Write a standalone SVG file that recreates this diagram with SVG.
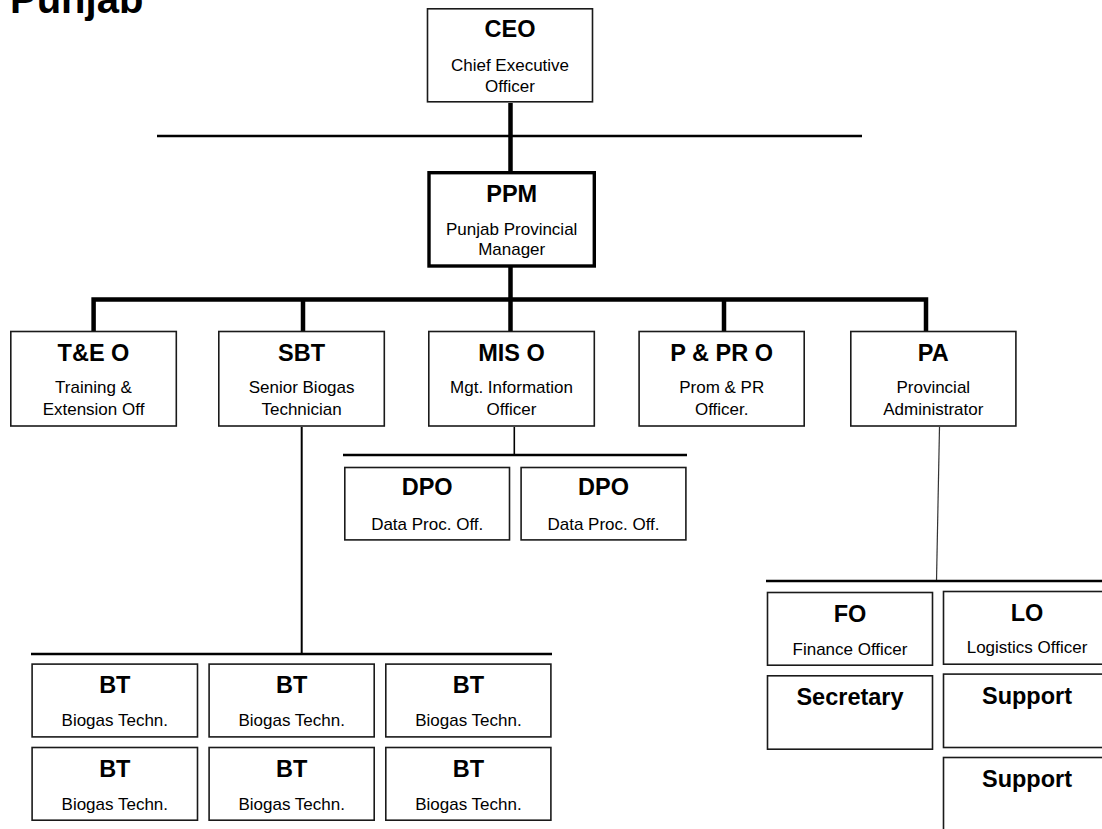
<svg xmlns="http://www.w3.org/2000/svg" width="1102" height="829" viewBox="0 0 1102 829">
<style>
  .box{fill:#fff;stroke:#1a1a1a;stroke-width:1.6}
  .thick{fill:#fff;stroke:#000;stroke-width:3.4}
  .t{font-family:"Liberation Sans",Arial,sans-serif;font-weight:bold;font-size:23.5px;fill:#000;text-anchor:middle}
  .s{font-family:"Liberation Sans",Arial,sans-serif;font-size:17px;fill:#000;text-anchor:middle}
  .ln{fill:none;stroke:#000}
</style>
<rect width="1102" height="829" fill="#fff"/>
<text x="10" y="13" font-family="Liberation Sans, Arial, sans-serif" font-weight="bold" font-size="40" fill="#000">Punjab</text>
<g id="connectors">
  <line class="ln" x1="157" y1="136" x2="862" y2="136" stroke-width="2.3"/>
  <line class="ln" x1="510.5" y1="103" x2="510.5" y2="171" stroke-width="4.5"/>
  <line class="ln" x1="510.5" y1="267" x2="510.5" y2="331" stroke-width="4.5"/>
  <path class="ln" d="M93.6,331 V299.5 H926 V331 M303,299.5 V331 M724,299.5 V331" stroke-width="4.5" stroke-linejoin="miter"/>
  <line class="ln" x1="301.7" y1="427" x2="301.7" y2="654" stroke-width="2"/>
  <line class="ln" x1="31" y1="654" x2="552" y2="654" stroke-width="2.5"/>
  <line class="ln" x1="514.3" y1="427" x2="514.3" y2="455" stroke-width="1.6"/>
  <line class="ln" x1="343" y1="455" x2="687" y2="455" stroke-width="2.5"/>
  <line x1="939.5" y1="427" x2="936.5" y2="581" stroke="#333" stroke-width="1.2"/>
  <line class="ln" x1="766" y1="581" x2="1102" y2="581" stroke-width="2.3"/>
</g>
<g id="ceo">
  <rect class="box" x="427.5" y="8.8" width="165" height="93"/>
  <text class="t" x="510" y="37">CEO</text>
  <text class="s" x="510" y="71">Chief Executive</text>
  <text class="s" x="510" y="92">Officer</text>
</g>
<g id="ppm">
  <rect class="thick" x="429" y="172.7" width="165.3" height="93.3"/>
  <text class="t" x="511.7" y="202">PPM</text>
  <text class="s" x="511.7" y="235">Punjab Provincial</text>
  <text class="s" x="511.7" y="255">Manager</text>
</g>
<g id="teo">
  <rect class="box" x="10.8" y="331.5" width="165.5" height="94.5"/>
  <text class="t" x="93.5" y="361">T&amp;E O</text>
  <text class="s" x="93.5" y="393">Training &amp;</text>
  <text class="s" x="93.5" y="415">Extension Off</text>
</g>
<g id="sbt">
  <rect class="box" x="218.8" y="331.5" width="165.5" height="94.5"/>
  <text class="t" x="301.6" y="361">SBT</text>
  <text class="s" x="301.6" y="393">Senior Biogas</text>
  <text class="s" x="301.6" y="415">Technician</text>
</g>
<g id="miso">
  <rect class="box" x="428.8" y="331.5" width="165.5" height="94.5"/>
  <text class="t" x="511.5" y="361">MIS O</text>
  <text class="s" x="511.5" y="393">Mgt. Information</text>
  <text class="s" x="511.5" y="415">Officer</text>
</g>
<g id="ppro">
  <rect class="box" x="639.1" y="331.5" width="165.1" height="94.5"/>
  <text class="t" x="721.7" y="361">P &amp; PR O</text>
  <text class="s" x="721.7" y="393">Prom &amp; PR</text>
  <text class="s" x="721.7" y="415">Officer.</text>
</g>
<g id="pa">
  <rect class="box" x="850.8" y="331.5" width="165.1" height="94.5"/>
  <text class="t" x="933.3" y="361">PA</text>
  <text class="s" x="933.3" y="393">Provincial</text>
  <text class="s" x="933.3" y="415">Administrator</text>
</g>
<g id="dpo1">
  <rect class="box" x="344.8" y="467.5" width="164.7" height="72.4"/>
  <text class="t" x="427.2" y="495">DPO</text>
  <text class="s" x="427.2" y="530">Data Proc. Off.</text>
</g>
<g id="dpo2">
  <rect class="box" x="521.1" y="467.5" width="164.8" height="72.4"/>
  <text class="t" x="603.5" y="495">DPO</text>
  <text class="s" x="603.5" y="530">Data Proc. Off.</text>
</g>
<g id="bt1">
  <rect class="box" x="32.1" y="664.1" width="165.4" height="72.8"/>
  <text class="t" x="114.8" y="693">BT</text>
  <text class="s" x="114.8" y="726">Biogas Techn.</text>
</g>
<g id="bt2">
  <rect class="box" x="209.1" y="664.1" width="165.1" height="72.8"/>
  <text class="t" x="291.7" y="693">BT</text>
  <text class="s" x="291.7" y="726">Biogas Techn.</text>
</g>
<g id="bt3">
  <rect class="box" x="385.8" y="664.1" width="165.1" height="72.8"/>
  <text class="t" x="468.4" y="693">BT</text>
  <text class="s" x="468.4" y="726">Biogas Techn.</text>
</g>
<g id="bt4">
  <rect class="box" x="32.1" y="747.5" width="165.4" height="72.7"/>
  <text class="t" x="114.8" y="777">BT</text>
  <text class="s" x="114.8" y="810">Biogas Techn.</text>
</g>
<g id="bt5">
  <rect class="box" x="209.1" y="747.5" width="165.1" height="72.7"/>
  <text class="t" x="291.7" y="777">BT</text>
  <text class="s" x="291.7" y="810">Biogas Techn.</text>
</g>
<g id="bt6">
  <rect class="box" x="385.8" y="747.5" width="165.1" height="72.7"/>
  <text class="t" x="468.4" y="777">BT</text>
  <text class="s" x="468.4" y="810">Biogas Techn.</text>
</g>
<g id="fo">
  <rect class="box" x="767.5" y="592.5" width="165" height="72.7"/>
  <text class="t" x="850" y="622">FO</text>
  <text class="s" x="850" y="655">Finance Officer</text>
</g>
<g id="lo">
  <rect class="box" x="943.5" y="591.5" width="167" height="72.7"/>
  <text class="t" x="1027" y="621">LO</text>
  <text class="s" x="1027" y="653">Logistics Officer</text>
</g>
<g id="secretary">
  <rect class="box" x="767.5" y="675.8" width="165" height="73.4"/>
  <text class="t" x="850" y="705">Secretary</text>
</g>
<g id="support1">
  <rect class="box" x="943.5" y="674.1" width="167" height="73.4"/>
  <text class="t" x="1027" y="704">Support</text>
</g>
<g id="support2">
  <rect class="box" x="943.5" y="757.5" width="167" height="82"/>
  <text class="t" x="1027" y="787">Support</text>
</g>
</svg>
